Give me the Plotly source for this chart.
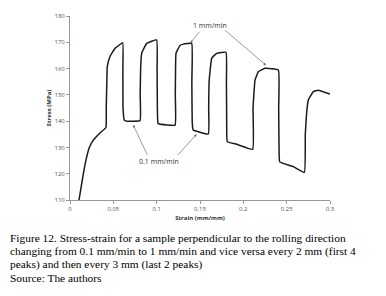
import plotly.graph_objects as go

strain = [0.0104, 0.0154, 0.0190, 0.0223, 0.0269, 0.0346, 0.0415,
          0.0418, 0.0425, 0.0430, 0.0460, 0.0520, 0.0608,
          0.0610, 0.0612, 0.0625, 0.0650, 0.0808,
          0.0810, 0.0815, 0.0827, 0.0885, 0.1000,
          0.1005, 0.1008, 0.1015, 0.1030, 0.1212,
          0.1215, 0.1218, 0.1223, 0.1269, 0.1307, 0.1404,
          0.1406, 0.1410, 0.1418, 0.1423, 0.1596,
          0.1600, 0.1605, 0.1635, 0.1692, 0.1800,
          0.1805, 0.1808, 0.1815, 0.1923, 0.2108,
          0.2112, 0.2135, 0.2173, 0.2250, 0.2404,
          0.2408, 0.2412, 0.2420, 0.2577, 0.2704,
          0.2715, 0.2730, 0.2750, 0.2808, 0.2865, 0.3000]
stress = [110.0, 120.0, 126.0, 130.0, 132.8, 135.5, 137.6,
          145.0, 155.0, 160.7, 164.5, 167.7, 169.8,
          160.0, 145.0, 140.5, 140.0, 140.2,
          150.0, 160.0, 165.8, 169.6, 170.9,
          160.0, 145.0, 139.2, 138.9, 138.5,
          150.0, 160.0, 165.8, 168.8, 169.3, 169.6,
          155.0, 140.0, 137.0, 136.6, 135.1,
          145.0, 155.0, 163.9, 165.8, 166.2,
          155.0, 140.0, 132.2, 131.2, 129.3,
          145.0, 155.6, 158.8, 160.1, 159.5,
          145.0, 130.0, 124.5, 122.7, 120.5,
          135.0, 143.0, 148.0, 151.2, 151.8, 150.3]

x_ticks = [0, 0.05, 0.1, 0.15, 0.2, 0.25, 0.3]
x_tick_text = ["0", "0.05", "0.1", "0.15", "0.2", "0.25", "0.3"]
y_ticks = [110, 120, 130, 140, 150, 160, 170, 180]

fast_label = "1 mm/min"
fast_text_pos = (0.1615, 176.2)
fast_targets = [(0.139, 169.8), (0.226, 161.3)]
fast_tails = [(0.151, 174.6), (0.1775, 175.0)]
slow_label = "0.1 mm/min"
slow_text_pos = (0.103, 124.8)
slow_targets = [(0.073, 138.5), (0.146, 135.0)]
slow_tails = [(0.090, 126.6), (0.123, 126.6)]

caption_lines = [
    "Figure 12. Stress-strain for a sample perpendicular to the rolling direction",
    "changing from 0.1 mm/min to 1 mm/min and vice versa every 2 mm (first 4",
    "peaks) and then every 3 mm (last 2 peaks)",
    "Source: The authors",
]

# figure pixel layout (page adds an 8px body margin)
L, R, T, B = 62, 64, 8, 104
W, H = 386, 296
pw, ph = W - L - R, H - T - B

fig = go.Figure()
fig.add_trace(go.Scatter(x=strain, y=stress, mode="lines",
                         line=dict(color="#1a1a1a", width=1.5, shape="spline", smoothing=0.3),
                         hoverinfo="skip", showlegend=False))

ann = []
for (tx, ty), (hx, hy) in zip(fast_targets + slow_targets, fast_tails + slow_tails):
    ann.append(dict(x=tx, y=ty, ax=hx, ay=hy, xref="x", yref="y", axref="x", ayref="y",
                    text="", showarrow=True, arrowhead=2, arrowsize=0.8, arrowwidth=0.6,
                    arrowcolor="#555"))
ann.append(dict(x=fast_text_pos[0], y=fast_text_pos[1], xref="x", yref="y", text=fast_label,
                showarrow=False, font=dict(family="Open Sans", size=7, color="#333")))
ann.append(dict(x=slow_text_pos[0], y=slow_text_pos[1], xref="x", yref="y", text=slow_label,
                showarrow=False, font=dict(family="Open Sans", size=7, color="#333")))
for i, line in enumerate(caption_lines):
    cy = 230.0 + i * 13.3
    ann.append(dict(x=(0 - L) / pw, y=(H - B - cy) / ph, xref="paper", yref="paper",
                    text=line, showarrow=False, xanchor="left", yanchor="middle",
                    font=dict(family="Liberation Serif", size=11.4, color="#000")))

fig.update_layout(
    annotations=ann,
    width=W, height=H,
    margin=dict(l=L, r=R, t=T, b=B, autoexpand=False),
    paper_bgcolor="white", plot_bgcolor="white",
    xaxis=dict(range=[0, 0.3], tickvals=x_ticks, ticktext=x_tick_text, automargin=True,
               showgrid=False, zeroline=False, showline=True, linecolor="#999", linewidth=1,
               ticks="outside", ticklen=3, tickcolor="#999",
               tickfont=dict(family="Open Sans", size=6, color="#555"),
               title=dict(text="<b>Strain (mm/mm)</b>", standoff=3,
                          font=dict(family="Open Sans", size=6, color="#333"))),
    yaxis=dict(range=[110, 180], tickvals=y_ticks, automargin=True,
               showgrid=False, zeroline=False, showline=True, linecolor="#999", linewidth=1,
               ticks="outside", ticklen=3, tickcolor="#999",
               tickfont=dict(family="Open Sans", size=6, color="#555"),
               title=dict(text="<b>Stress (MPa)</b>", standoff=2,
                          font=dict(family="Open Sans", size=6, color="#333"))),
)
fig.write_html("out.html")
